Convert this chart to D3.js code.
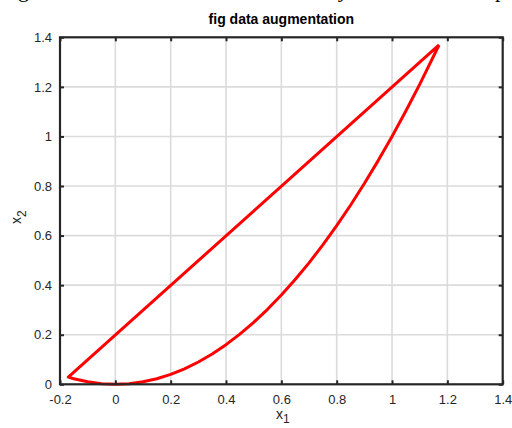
<!DOCTYPE html>
<html><head><meta charset="utf-8">
<script src="https://cdn.jsdelivr.net/npm/d3@7"></script>
<style>body{margin:0;background:#fff;} svg{display:block;}</style>
</head><body>
<svg id="c" width="512" height="428"></svg>
<script>
const title = "fig data augmentation";
const xTicks = [-0.2, 0, 0.2, 0.4, 0.6, 0.8, 1, 1.2, 1.4];
const yTicks = [0, 0.2, 0.4, 0.6, 0.8, 1, 1.2, 1.4];
// curved branch
const curveX = [-0.17,-0.15,-0.1,-0.05,0,0.05,0.1,0.15,0.2,0.25,0.3,0.35,0.4,0.45,0.5,0.55,0.6,0.65,0.7,0.75,0.8,0.85,0.9,0.95,1.0,1.05,1.1,1.17];
const curveY = [0.029,0.0225,0.01,0.0025,0,0.0025,0.01,0.0225,0.04,0.0625,0.09,0.1225,0.16,0.2025,0.25,0.3025,0.36,0.4225,0.49,0.5625,0.64,0.7225,0.81,0.9025,1.0,1.1025,1.21,1.369];
// straight branch
const lineX = [1.17, -0.17];
const lineY = [1.369, 0.029];

const svg = d3.select("#c");
const m = {l:60, r:502.7, t:37.3, b:384.3};
const x = d3.scaleLinear().domain([-0.2,1.4]).range([m.l,m.r]);
const y = d3.scaleLinear().domain([0,1.4]).range([m.b,m.t]);

// clipped caption text from above (cut off in the reference too)
const cap = svg.append("g").attr("font-family","Liberation Serif").attr("font-size",22).attr("fill","#000");
cap.append("text").attr("x",18).attr("y",-3).text("g");
cap.append("text").attr("x",340).attr("y",-3).attr("font-style","italic").text("y");
cap.append("text").attr("x",495).attr("y",-3).text("p");

// grid
svg.append("g").selectAll("line").data(xTicks.slice(1,-1)).join("line")
  .attr("x1",d=>x(d)).attr("x2",d=>x(d)).attr("y1",m.t).attr("y2",m.b)
  .attr("stroke","#dbdbdb").attr("stroke-width",1.6);
svg.append("g").selectAll("line").data(yTicks.slice(1,-1)).join("line")
  .attr("y1",d=>y(d)).attr("y2",d=>y(d)).attr("x1",m.l).attr("x2",m.r)
  .attr("stroke","#dbdbdb").attr("stroke-width",1.6);

// data
const pts = lineX.map((v,i)=>[v,lineY[i]]).concat(curveX.slice(1).map((v,i)=>[v,curveY[i+1]]));
const gen = d3.line().x(d=>x(d[0])).y(d=>y(d[1]));
svg.append("path").attr("d",gen(pts)).attr("fill","none").attr("stroke","#ff0000")
  .attr("stroke-width",3).attr("stroke-linejoin","round");

// axes
const fmt = d=>String(+d.toFixed(1));
const gB = svg.append("g").attr("transform",`translate(0,${m.b})`)
  .call(d3.axisBottom(x).tickValues(xTicks).tickFormat(fmt).tickSizeInner(-4).tickSizeOuter(0).tickPadding(10));
const gL = svg.append("g").attr("transform",`translate(${m.l},0)`)
  .call(d3.axisLeft(y).tickValues(yTicks).tickFormat(fmt).tickSizeInner(-4).tickSizeOuter(0).tickPadding(8));
const gT = svg.append("g").attr("transform",`translate(0,${m.t})`)
  .call(d3.axisTop(x).tickValues(xTicks).tickFormat("").tickSizeInner(-4).tickSizeOuter(0));
const gR = svg.append("g").attr("transform",`translate(${m.r},0)`)
  .call(d3.axisRight(y).tickValues(yTicks).tickFormat("").tickSizeInner(-4).tickSizeOuter(0));
[gB,gL,gT,gR].forEach(g=>{
  g.select(".domain").remove();
  g.selectAll("line").attr("stroke","#262626").attr("stroke-width",2);
  g.selectAll("text").attr("font-family","Liberation Sans").attr("font-size",13).attr("fill","#262626");
});
svg.append("rect").attr("x",m.l).attr("y",m.t).attr("width",m.r-m.l).attr("height",m.b-m.t)
  .attr("fill","none").attr("stroke","#262626").attr("stroke-width",2.2);

// title
svg.append("text").attr("x",(m.l+m.r)/2).attr("y",24).attr("text-anchor","middle")
  .attr("font-family","Liberation Sans").attr("font-weight","bold").attr("font-size",14).attr("fill","#000").text(title);

// labels
const xl = svg.append("text").attr("x",276).attr("y",419).attr("font-family","Liberation Sans").attr("font-size",14).attr("fill","#262626");
xl.append("tspan").text("x");
xl.append("tspan").attr("dy",4).attr("font-size",12).text("1");
const yl = svg.append("text").attr("transform","translate(21,224) rotate(-90)").attr("font-family","Liberation Sans").attr("font-size",14).attr("fill","#262626");
yl.append("tspan").text("x");
yl.append("tspan").attr("dy",5).attr("font-size",12).text("2");
</script>
</body></html>
